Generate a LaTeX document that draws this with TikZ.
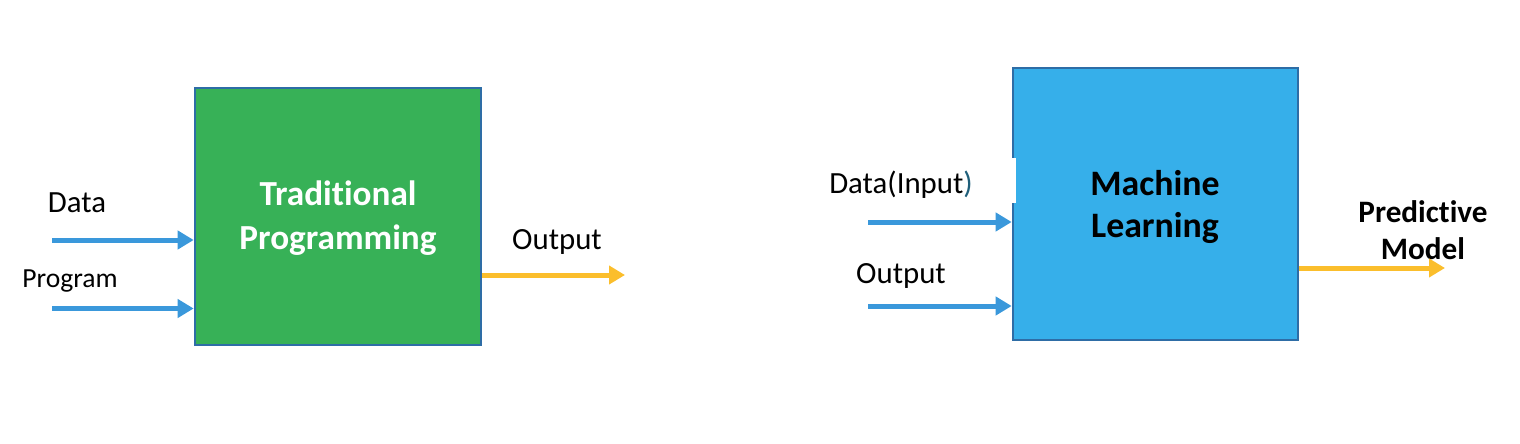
\documentclass[tikz,border=0pt]{standalone}
\usepackage{fontspec}
\setmainfont{Carlito}[Ligatures=NoCommon,RawFeature={-liga;-dlig;-clig}]
\usetikzlibrary{arrows.meta}
\definecolor{tpgreen}{HTML}{37B157}
\definecolor{mlblue}{HTML}{36AFEA}
\definecolor{boxedge}{HTML}{2E6DA6}
\definecolor{arrblue}{HTML}{3A98DB}
\definecolor{arryel}{HTML}{FBBE2C}
\definecolor{paren}{HTML}{1F5F7A}
\tikzset{
  procbox/.style={draw=boxedge, line width=1.3pt, inner sep=0pt, align=center},
  inarrow/.style={draw=arrblue, line width=2.5pt, -{Triangle[length=8pt,width=9pt]}},
  outarrow/.style={draw=arryel, line width=2.5pt, -{Triangle[length=8pt,width=9pt]}},
  lbl/.style={inner sep=0pt, font=\fontsize{15.4}{18}\selectfont},
  smalllbl/.style={inner sep=0pt, font=\fontsize{13.8}{16}\selectfont},
}
\begin{document}
\begin{tikzpicture}[x=0.5pt,y=-0.5pt]
\useasboundingbox (0,0) rectangle (1520,444);
% left: traditional programming
\node[procbox, fill=tpgreen, minimum width=143pt, minimum height=128.5pt] (tp) at (338,216.5) {};
\node[inner sep=0pt, align=center, text=white, font=\bfseries\fontsize{17.6}{22}\selectfont] (tptext) at (338,218) {Traditional\\Programming};
\node[lbl] (data) at (77,203) {Data};
\node[smalllbl] (prog) at (70,281) {Program};
\node[lbl] (out1) at (557,242) {Output};
\coordinate (d1) at (52,240);
\coordinate (p1) at (52,308.5);
\coordinate (o1) at (625,275);
\draw[inarrow] (d1) -- (d1 -| tp.west);
\draw[inarrow] (p1) -- (p1 -| tp.west);
\draw[outarrow] (o1 -| tp.east) -- (o1);
% right: machine learning
\node[procbox, fill=mlblue, minimum width=142.5pt, minimum height=136pt] (ml) at (1155.5,204) {};
\fill[white] (1011,158) rectangle (1015.5,203);
\node[inner sep=0pt, align=center, font=\bfseries\fontsize{17.9}{21}\selectfont] (mltext) at (1155,207) {Machine\\Learning};
\node[lbl] (data2) at (901,185) {Data(Input\textcolor{paren}{)}};
\node[lbl] (out2) at (901,276) {Output};
\node[inner sep=0pt, align=center, font=\bfseries\fontsize{15.6}{18.5}\selectfont] (pm) at (1423,230) {Predictive\\Model};
\coordinate (d2) at (868,222);
\coordinate (o2) at (868,306);
\coordinate (pmend) at (1445,268);
\draw[inarrow] (d2) -- (d2 -| ml.west);
\draw[inarrow] (o2) -- (o2 -| ml.west);
\draw[outarrow] (pmend -| ml.east) -- (pmend);
\end{tikzpicture}
\end{document}
